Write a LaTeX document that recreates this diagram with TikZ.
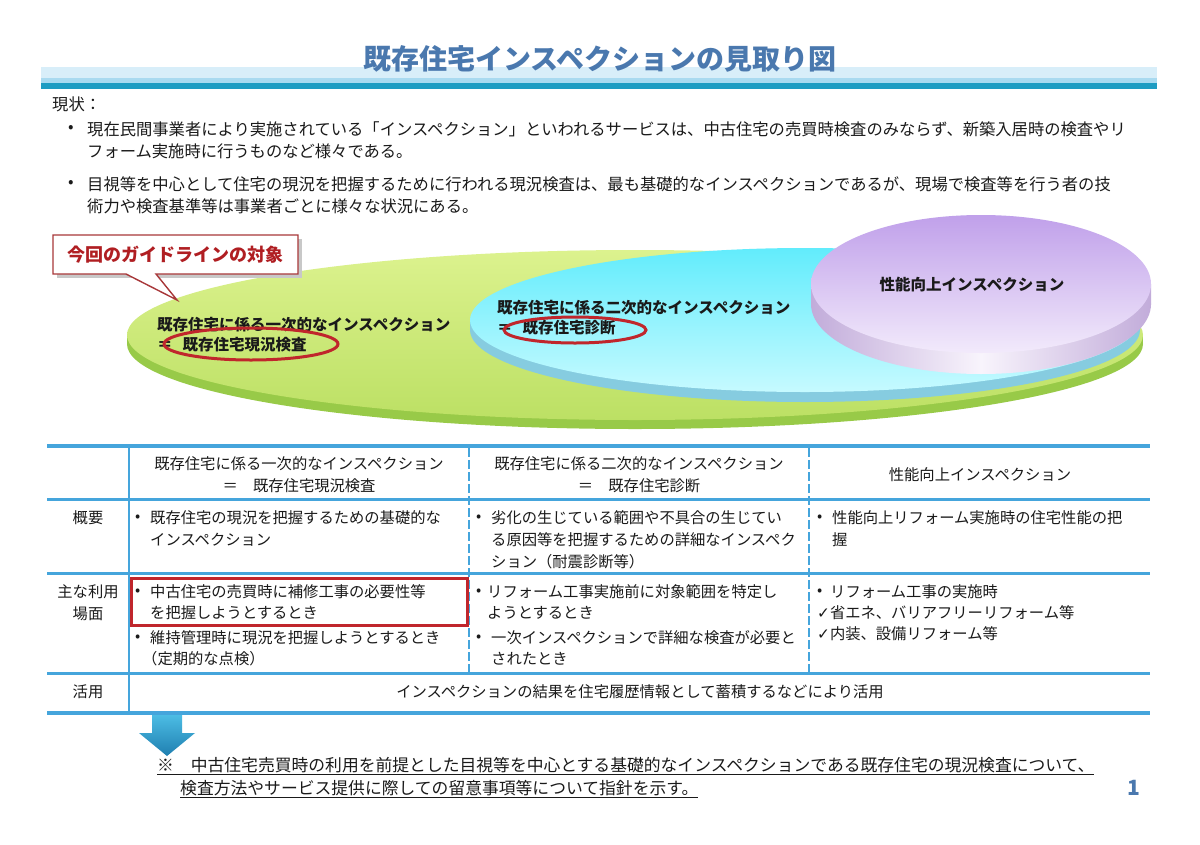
\documentclass[tikz,border=0pt]{standalone}
\usepackage{fontspec}
\setmainfont{Noto Sans CJK JP}
\newfontfamily\dejavu{DejaVu Sans}
\usetikzlibrary{shapes.geometric}
\definecolor{titleblue}{HTML}{4A78AE}
\definecolor{bandA}{HTML}{D8EEF9}
\definecolor{bandB}{HTML}{A9DAF0}
\definecolor{bandC}{HTML}{1E9CC2}
\definecolor{txt}{HTML}{1A1A1A}
\definecolor{tblue}{HTML}{45A5DC}
\definecolor{ringred}{HTML}{C0262C}
\definecolor{calred}{HTML}{A8383A}
\definecolor{caltxt}{HTML}{B01E22}
\definecolor{gA}{HTML}{DCF28E}
\definecolor{gB}{HTML}{BCE064}
\definecolor{gRim}{HTML}{98CA48}
\definecolor{cA}{HTML}{62ECFC}
\definecolor{cB}{HTML}{C6FAFF}
\definecolor{cRim}{HTML}{86CCE0}
\definecolor{pA}{HTML}{C0A0EA}
\definecolor{pB}{HTML}{F2EAFB}
\definecolor{pRimE}{HTML}{C2ACDA}
\definecolor{pRimM}{HTML}{F8F4FC}
\definecolor{arA}{HTML}{4CBCE4}
\definecolor{arB}{HTML}{1F7FB0}
\definecolor{shadowgray}{HTML}{C8C8C8}
\tikzset{
  body/.style={font=\fontsize{16.3}{20}\selectfont, text=txt, inner sep=0pt, anchor=west},
  tab/.style={font=\fontsize{15.3}{20}\selectfont, text=txt, inner sep=0pt, anchor=west},
  tabc/.style={tab, anchor=center},
  disktext/.style={font=\bfseries\fontsize{15.5}{20}\selectfont, text=txt, inner sep=0pt, anchor=west},
  hrule/.style={draw=tblue, line width=3pt},
  thickrule/.style={draw=tblue, line width=4.5pt},
  dashrule/.style={draw=tblue, line width=2pt, dash pattern=on 9pt off 3pt},
  redring/.style={draw=ringred, line width=3pt},
}
\begin{document}
\begin{tikzpicture}[x=1pt,y=-1pt]
\useasboundingbox (0,0) rectangle (1200,844);
\fill[white] (0,0) rectangle (1200,844);

% ---- title band ----
\fill[bandA] (41,67) rectangle (1157,78);
\fill[bandB] (41,78) rectangle (1157,83);
\fill[bandC] (41,83) rectangle (1157,89);
\node[font=\bfseries\fontsize{28}{32}\selectfont, text=titleblue, inner sep=0pt] (title) at (600,59) {既存住宅インスペクションの見取り図};

% ---- intro text ----
\node[body] (genjo) at (52,104) {現状：};
\node[body] (b1) at (68,129) {•};
\node[body] (l1) at (87,129) {現在民間事業者により実施されている「インスペクション」といわれるサービスは、中古住宅の売買時検査のみならず、新築入居時の検査やリ};
\node[body] (l2) at (87,151) {フォーム実施時に行うものなど様々である。};
\node[body] (b2) at (68,184) {•};
\node[body] (l3) at (87,184) {目視等を中心として住宅の現況を把握するために行われる現況検査は、最も基礎的なインスペクションであるが、現場で検査等を行う者の技};
\node[body] (l4) at (87,206) {術力や検査基準等は事業者ごとに様々な状況にある。};

% ---- green disk ----
\fill[gRim] (635,344) ellipse [x radius=508pt, y radius=85pt];
\fill[gRim] (127,335) rectangle (1143,344);
\shade[top color=gA, bottom color=gB] (635,335) ellipse [x radius=508pt, y radius=85pt];
\node[disktext] (g1) at (157,325) {既存住宅に係る一次的なインスペクション};
\node[disktext] (g2) at (157,345) {＝\hspace{10pt}既存住宅現況検査};
\draw[redring] (251,344) ellipse [x radius=87pt, y radius=16pt];

% ---- cyan disk ----
\fill[cRim] (805,330) ellipse [x radius=335pt, y radius=72pt];
\fill[cRim] (470,320) rectangle (1140,330);
\shade[top color=cA, bottom color=cB] (805,320) ellipse [x radius=335pt, y radius=72pt];
\node[disktext] (c1) at (497,308) {既存住宅に係る二次的なインスペクション};
\node[disktext] (c2) at (497,328) {＝\hspace{10pt}既存住宅診断};
\draw[redring] (575,330) ellipse [x radius=71pt, y radius=13pt];

% ---- purple disk ----
\shade[left color=pRimE, right color=pRimE, middle color=pRimM] (811,284) rectangle (1151,304);
\shade[left color=pRimE, right color=pRimE, middle color=pRimM] (981,304) ellipse [x radius=170pt, y radius=70pt];
\shade[top color=pA, bottom color=pB] (981,284) ellipse [x radius=170pt, y radius=69pt];
\node[disktext, anchor=center] (p1) at (972,285) {性能向上インスペクション};

% ---- callout ----
\fill[shadowgray] (57,239) -- (302,239) -- (302,278) -- (57,278) -- cycle;
\filldraw[fill=white, draw=calred, line width=1.4pt, line join=miter]
  (53,235) -- (298,235) -- (298,274) -- (156,274) -- (177,300) -- (126,274) -- (53,274) -- cycle;
\node[font=\bfseries\fontsize{18}{22}\selectfont, text=caltxt, inner sep=0pt] (callout) at (175,255) {今回のガイドラインの対象};

% ---- table ----
\draw[thickrule] (47,446) -- (1150,446);
\draw[hrule] (47,499) -- (1150,499);
\draw[hrule] (47,573) -- (1150,573);
\draw[hrule] (47,673) -- (1150,673);
\draw[thickrule] (47,713) -- (1150,713);
\draw[draw=tblue, line width=2pt] (129,446) -- (129,713);
\draw[dashrule] (469,448) -- (469,672);
\draw[dashrule] (809,448) -- (809,672);

% header row
\node[tabc] (h1a) at (299,464) {既存住宅に係る一次的なインスペクション};
\node[tabc] (h1b) at (299,486) {＝　既存住宅現況検査};
\node[tabc] (h2a) at (639,464) {既存住宅に係る二次的なインスペクション};
\node[tabc] (h2b) at (639,486) {＝　既存住宅診断};
\node[tabc] (h3) at (980,475) {性能向上インスペクション};

% 概要 row
\node[tabc] (r1) at (88,518) {概要};
\node[tab] (r1c1b) at (135,518) {•};
\node[tab] (r1c1a) at (150,518) {既存住宅の現況を把握するための基礎的な};
\node[tab] (r1c1c) at (150,540) {インスペクション};
\node[tab] (r1c2b) at (476,518) {•};
\node[tab] (r1c2a) at (491,518) {劣化の生じている範囲や不具合の生じてい};
\node[tab] (r1c2c) at (491,540) {る原因等を把握するための詳細なインスペク};
\node[tab] (r1c2d) at (491,562) {ション（耐震診断等）};
\node[tab] (r1c3b) at (817,518) {•};
\node[tab] (r1c3a) at (832,518) {性能向上リフォーム実施時の住宅性能の把};
\node[tab] (r1c3c) at (832,540) {握};

% 主な利用場面 row
\node[tabc] (r2a) at (88,592) {主な利用};
\node[tabc] (r2b) at (88,614) {場面};
\draw[draw=ringred, line width=3pt] (131,578) rectangle (467,625);
\node[tab] (r2c1b1) at (135,592) {•};
\node[tab] (r2c1a) at (150,592) {中古住宅の売買時に補修工事の必要性等};
\node[tab] (r2c1c) at (150,613) {を把握しようとするとき};
\node[tab] (r2c1b2) at (135,638) {•};
\node[tab] (r2c1d) at (150,638) {維持管理時に現況を把握しようとするとき};
\node[tab] (r2c1e) at (142,659) {（定期的な点検）};
\node[tab] (r2c2b1) at (476,592) {•};
\node[tab] (r2c2a) at (487,592) {リフォーム工事実施前に対象範囲を特定し};
\node[tab] (r2c2c) at (487,613) {ようとするとき};
\node[tab] (r2c2b2) at (476,638) {•};
\node[tab] (r2c2d) at (491,638) {一次インスペクションで詳細な検査が必要と};
\node[tab] (r2c2e) at (491,659) {されたとき};
\node[tab] (r2c3b) at (817,592) {•};
\node[tab] (r2c3a) at (830,592) {リフォーム工事の実施時};
\node[tab] (r2c3c) at (817,613) {{\dejavu ✓}省エネ、バリアフリーリフォーム等};
\node[tab] (r2c3d) at (817,634) {{\dejavu ✓}内装、設備リフォーム等};

% 活用 row
\node[tabc] (r3) at (88,692) {活用};
\node[tabc] (r3t) at (640,692) {インスペクションの結果を住宅履歴情報として蓄積するなどにより活用};

% ---- arrow ----
\shade[top color=arA, bottom color=arB]
  (152,715) -- (182,715) -- (182,733) -- (195,733) -- (167,756) -- (139,733) -- (152,733) -- cycle;

% ---- conclusion ----
\node[body, font=\fontsize{16.8}{20}\selectfont] (n1) at (157,766) {\underline{※　中古住宅売買時の利用を前提とした目視等を中心とする基礎的なインスペクションである既存住宅の現況検査について、}};
\node[body, font=\fontsize{16.8}{20}\selectfont] (n2) at (180,789) {\underline{検査方法やサービス提供に際しての留意事項等について指針を示す。}};
\node[font=\bfseries\fontsize{21}{24}\selectfont, text=titleblue, inner sep=0pt] (page) at (1134,788) {1};
\end{tikzpicture}
\end{document}
